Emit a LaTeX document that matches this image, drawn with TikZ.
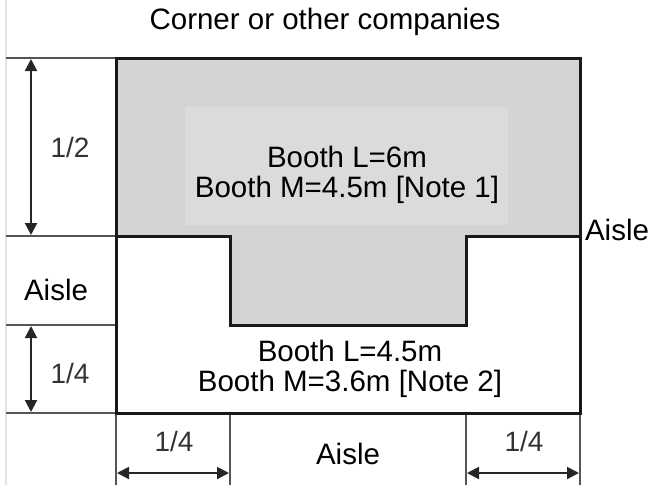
\documentclass[tikz,border=0pt]{standalone}
\usepackage{fontspec}
\setmainfont{Liberation Sans}
\usetikzlibrary{arrows.meta}
\definecolor{boothgray}{HTML}{D4D4D4}
\definecolor{innergray}{HTML}{DBDBDB}
\definecolor{thinline}{HTML}{555555}
\definecolor{edgeline}{HTML}{E4E4E4}
\definecolor{fracgray}{HTML}{333333}
\begin{document}
\begin{tikzpicture}[x=1pt,y=-1pt,
  txt/.style={inner sep=0pt,font=\fontsize{29.5}{30}\selectfont,align=center},
  frac/.style={inner sep=0pt,font=\fontsize{28}{29}\selectfont,text=fracgray},
  thick line/.style={line width=3pt,draw=black!90,line join=miter},
  thin line/.style={line width=2pt,draw=thinline},
  dim/.style={line width=2pt,draw=black!85,{Triangle[length=12pt,width=12pt]}-{Triangle[length=12pt,width=12pt]}}]
\useasboundingbox (0,0) rectangle (650,485);
% key points
\coordinate (tl) at (116,58);
\coordinate (tr) at (580,58);
\coordinate (bl) at (116,413);
\coordinate (br) at (580,413);
\coordinate (ml) at (116,236);
\coordinate (mr) at (580,236);
\coordinate (s1) at (230,236);
\coordinate (s2) at (230,325);
\coordinate (s3) at (466,325);
\coordinate (s4) at (466,236);
% fills
\fill[boothgray] (tl) -- (tr) -- (mr) -- (s4) -- (s3) -- (s2) -- (s1) -- (ml) -- cycle;
\fill[innergray] (185,107) rectangle (508,225);
% left light edge
\draw[line width=1.2pt,draw=edgeline] (6,0) -- (6,485);
% thin lines left
\coordinate (e1) at (6,58);
\coordinate (e2) at (6,236);
\coordinate (e3) at (6,325);
\coordinate (e4) at (6,413);
\coordinate (l3) at (116,325);
\draw[thin line] (e1) -- (tl);
\draw[thin line] (e2) -- (ml);
\draw[thin line] (e3) -- (l3);
\draw[thin line] (e4) -- (bl);
% thin lines bottom
\coordinate (b1) at (116,485);
\coordinate (b2) at (230,485);
\coordinate (b3) at (466,485);
\coordinate (b4) at (580,485);
\coordinate (bm1) at (230,413);
\coordinate (bm2) at (466,413);
\draw[thin line] (bl) -- (b1);
\draw[thin line] (bm1) -- (b2);
\draw[thin line] (bm2) -- (b3);
\draw[thin line] (br) -- (b4);
% main outlines
\draw[thick line] (tl) rectangle (br);
\draw[thick line] (ml) -- (s1) -- (s2) -- (s3) -- (s4) -- (mr);
% dimension arrows
\coordinate (a1t) at (31,59);
\coordinate (a1b) at (31,235);
\coordinate (a2t) at (31,326);
\coordinate (a2b) at (31,412);
\coordinate (h1l) at (117,473);
\coordinate (h1r) at (229,473);
\coordinate (h2l) at (467,473);
\coordinate (h2r) at (579,473);
\draw[dim] (a1t) -- (a1b);
\draw[dim] (a2t) -- (a2b);
\draw[dim] (h1l) -- (h1r);
\draw[dim] (h2l) -- (h2r);
% labels
\node[frac] (f1) at (70,147) {1/2};
\node[frac] (f2) at (70,373) {1/4};
\node[frac] (f3) at (174,441) {1/4};
\node[frac] (f4) at (524,441) {1/4};
\node[txt] (title) at (325,22) {Corner or other companies};
\node[txt] (boothA) at (347,175) {Booth L=6m\\Booth M=4.5m [Note 1]};
\node[txt] (boothB) at (350,369) {Booth L=4.5m\\Booth M=3.6m [Note 2]};
\node[txt] (aisleL) at (56,290) {Aisle};
\node[txt] (aisleR) at (617,230) {Aisle};
\node[txt] (aisleB) at (348,454) {Aisle};
\end{tikzpicture}
\end{document}
